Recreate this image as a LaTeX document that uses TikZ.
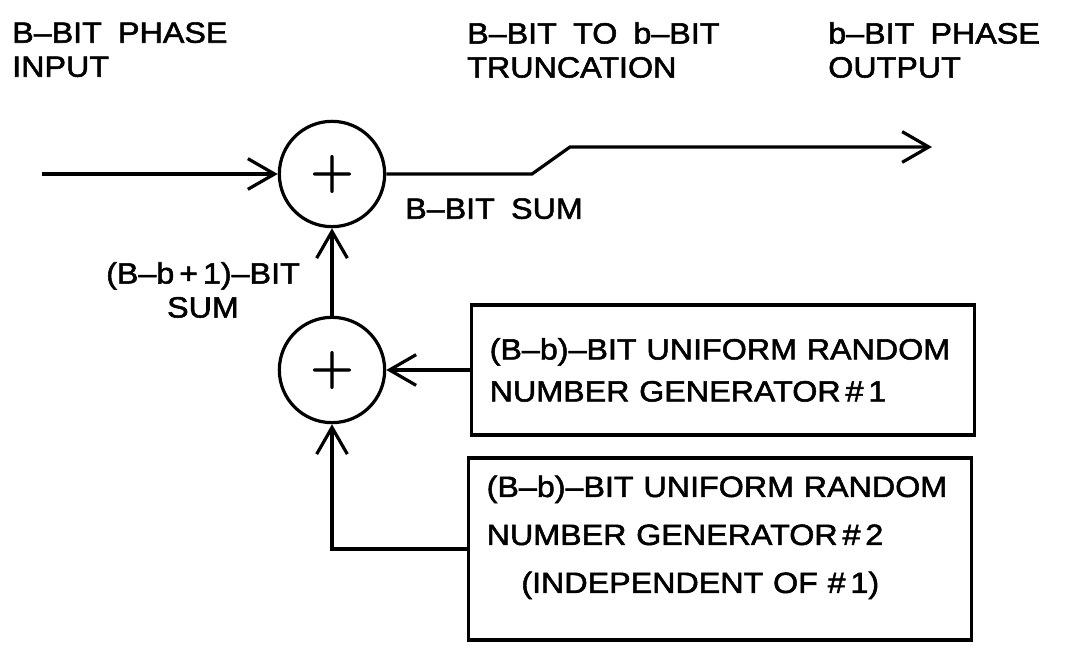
\documentclass[tikz,border=0pt]{standalone}
\usepackage{fontspec}
\setmainfont{Liberation Sans}[FakeStretch=1.1, FakeBold=1.8, WordSpace=1.8]
\newfontfamily\plusfont{Latin Modern Roman}[FakeBold=2]
\usetikzlibrary{arrows.meta,positioning}
\tikzset{
  lbl/.style={inner sep=0pt, align=left, font=\fontsize{22}{25.5}\selectfont},
  sumnode/.style={circle, draw, line width=2.4pt, minimum size=79pt, inner sep=0pt,
    font=\plusfont\fontsize{44}{44}\selectfont},
  genbox/.style={draw, line width=2.4pt, inner xsep=13.5pt, inner ysep=0pt,
    align=left, text width=350pt, font=\fontsize{22}{28.5}\selectfont},
  arr/.style={-{Straight Barb[length=20pt,width=23pt,line width=2.4pt]}, line width=2.4pt}
}
\begin{document}
\begin{tikzpicture}[x=0.75pt, y=-0.75pt]
  \useasboundingbox (0,0) rectangle (1065,648);
  % adders
  \node[sumnode] (sum1) at (332,174) {+};
  \node[sumnode] (sum2) at (332,370) {+};
  % random number generators
  \node[genbox, minimum height=97.5pt] (gen1) at (723,370)
    {\vspace*{3pt}(B–b)–BIT UNIFORM RANDOM\\NUMBER GENERATOR\,\#\,1};
  \node[genbox, minimum height=136.5pt, font=\fontsize{22}{36}\selectfont] (gen2) at (720,549)
    {(B–b)–BIT UNIFORM RANDOM\\NUMBER GENERATOR\,\#\,2\\\hspace*{26pt}(INDEPENDENT OF \#\,1)\\[-14pt]\mbox{}};
  % labels
  \node[lbl, anchor=north west] (inlbl) at (12,22) {B–BIT PHASE\\INPUT};
  \node[lbl, anchor=north west] (trlbl) at (467,22) {B–BIT TO b–BIT\\TRUNCATION};
  \node[lbl, anchor=north west] (outlbl) at (828,22) {b–BIT PHASE\\OUTPUT};
  \node[lbl, anchor=north west] (sumlbl) at (405,198) {B–BIT SUM};
  \node[lbl, align=center, anchor=north] (partlbl) at (203,262) {(B–b\,+\,1)–BIT\\SUM};
  % connectors
  \coordinate (in) at (42,174);
  \coordinate (trA) at (532,174);
  \coordinate (trB) at (570,147);
  \coordinate (out) at (932,147);
  \draw[arr] (in) -- (sum1);
  \draw[arr] (sum1.east) -- (trA) -- (trB) -- (out);
  \draw[arr] (sum2) -- (sum1);
  \draw[arr] (gen1.west) -- (sum2);
  \draw[arr] (gen2.west) -| (sum2.south);
\end{tikzpicture}
\end{document}
